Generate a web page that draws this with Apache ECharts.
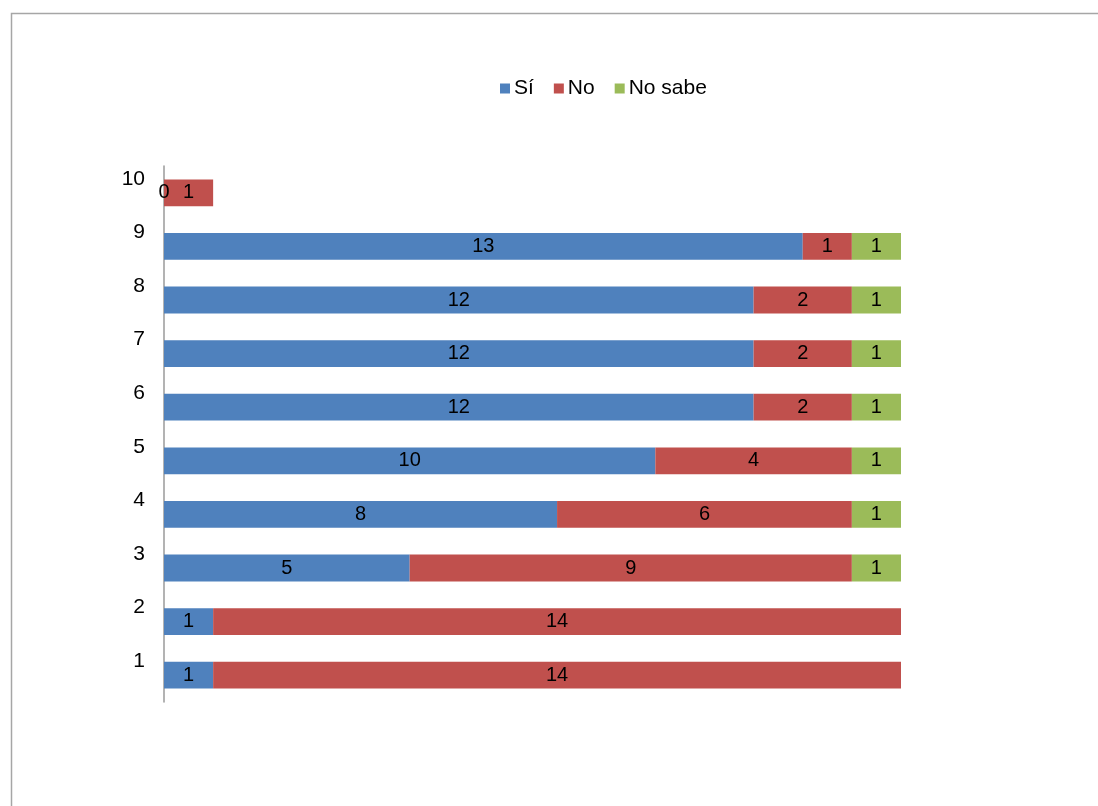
<!DOCTYPE html>
<html><head><meta charset="utf-8">
<script src="https://cdn.jsdelivr.net/npm/echarts@6/dist/echarts.min.js"></script>
<style>html,body{margin:0;padding:0;background:#fff}#c{width:1098px;height:806px}</style>
</head><body><div id="c"></div>
<script>
const categories = ['1','2','3','4','5','6','7','8','9','10'];
const si = [1,1,5,8,10,12,12,12,13,0];
const no = [14,14,9,6,4,2,2,2,1,1];
const noSabe = [null,null,1,1,1,1,1,1,1,null];
const seriesNames = ['Sí','No','No sabe'];

const chart = echarts.init(document.getElementById('c'));
const font = 'Liberation Sans, Arial, sans-serif';
const lbl = {show:true, position:'inside', color:'#000', fontSize:20, fontFamily:font};
function s(name, data, color){
  return {name, type:'bar', stack:'t', data, barWidth:'50%', itemStyle:{color}, label:lbl, emphasis:{disabled:true}};
}
chart.setOption({
  animation:false,
  graphic:[{type:'rect', left:9, top:11, shape:{width:1200, height:900}, style:{fill:'none', stroke:'#a6a6a6', lineWidth:1.5}, silent:true}],
  legend:{top:73, left:495, itemWidth:10, itemHeight:10, itemGap:20, icon:'rect',
    textStyle:{fontSize:21, fontFamily:font, color:'#000', padding:[0,0,0,-1]}, data:seriesNames},
  grid:{left:164, right:197, top:166, height:536, containLabel:false},
  xAxis:{type:'value', min:0, max:15, show:false},
  yAxis:{type:'category', data:categories, axisTick:{show:false},
    axisLine:{lineStyle:{color:'#9a9a9a', width:1.5}},
    axisLabel:{margin:19, formatter:'{a|{value}}',
      rich:{a:{fontSize:21, fontFamily:font, color:'#000', padding:[0,0,28,0]}}}},
  series:[s(seriesNames[0], si, '#4F81BD'), s(seriesNames[1], no, '#C0504D'), s(seriesNames[2], noSabe, '#9BBB59')]
});
</script></body></html>
